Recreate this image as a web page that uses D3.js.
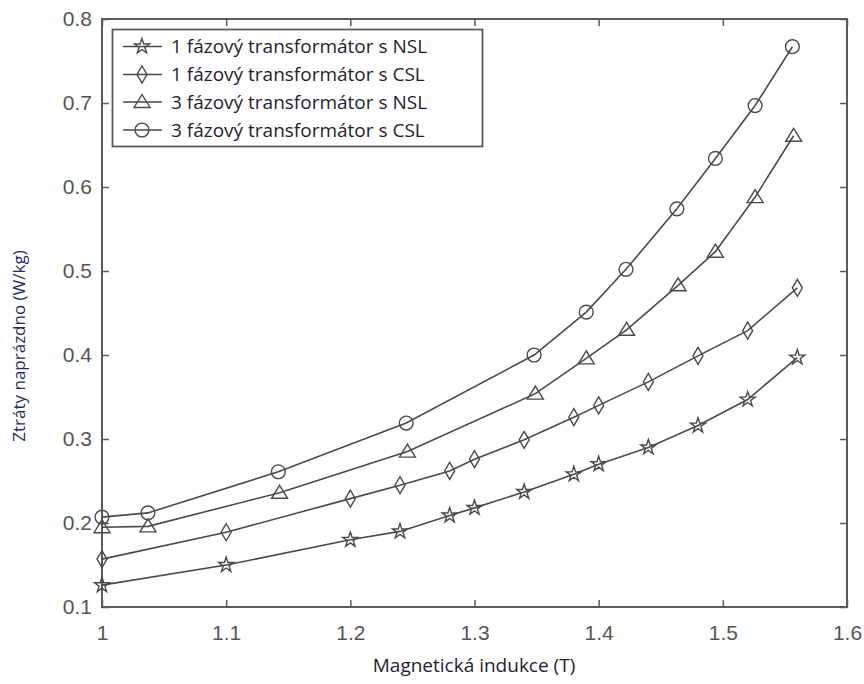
<!DOCTYPE html>
<html>
<head>
<meta charset="utf-8">
<script src="https://cdn.jsdelivr.net/npm/d3@7/dist/d3.min.js"></script>
<style>
  html, body { margin: 0; padding: 0; background: #fff; }
  svg { display: block; }
</style>
</head>
<body>
<svg id="chart" width="864" height="684"></svg>
<script>
// ---- data ----
const xTicks = [1, 1.1, 1.2, 1.3, 1.4, 1.5, 1.6];
const yTicks = [0.1, 0.2, 0.3, 0.4, 0.5, 0.6, 0.7, 0.8];

const seriesNames = [
  "1 fázový transformátor s NSL",
  "1 fázový transformátor s CSL",
  "3 fázový transformátor s NSL",
  "3 fázový transformátor s CSL"
];
const seriesMarkers = ["star", "diamond", "triangle", "circle"];

const x1 = [1.0, 1.1, 1.2, 1.24, 1.28, 1.30, 1.34, 1.38, 1.40, 1.44, 1.48, 1.52, 1.56];
const y1NSL = [0.126, 0.150, 0.180, 0.190, 0.209, 0.218, 0.237, 0.258, 0.270, 0.290, 0.316, 0.347, 0.397];
const y1CSL = [0.157, 0.189, 0.229, 0.245, 0.262, 0.276, 0.299, 0.326, 0.340, 0.368, 0.399, 0.429, 0.480];

const x3NSL = [1.0, 1.037, 1.143, 1.246, 1.349, 1.39, 1.4225, 1.464, 1.494, 1.526, 1.557];
const y3NSL = [0.195, 0.196, 0.236, 0.285, 0.354, 0.396, 0.430, 0.483, 0.523, 0.588, 0.661];
const x3CSL = [1.0, 1.037, 1.142, 1.245, 1.348, 1.39, 1.422, 1.463, 1.494, 1.526, 1.556];
const y3CSL = [0.207, 0.212, 0.261, 0.319, 0.400, 0.451, 0.502, 0.574, 0.634, 0.697, 0.767];

const seriesX = [x1, x1, x3NSL, x3CSL];
const seriesY = [y1NSL, y1CSL, y3NSL, y3CSL];

// ---- layout ----
const svg = d3.select("#chart");
const pL = 102, pR = 847, pT = 19, pB = 607;
const x = d3.scaleLinear().domain([1, 1.6]).range([pL, pR]);
const y = d3.scaleLinear().domain([0.1, 0.8]).range([pB, pT]);

const axisColor = "#5a5a5a";
const lineColor = "#4a4a4a";
const tickFont = "'Liberation Sans', Arial, sans-serif";
const textFont = "'Open Sans', 'Noto Sans', sans-serif";

// ---- axes (ticks inward on all four sides) ----
const tl = 7;
function styleAxis(g) {
  g.select(".domain").remove();
  g.selectAll(".tick line").attr("stroke", axisColor).attr("stroke-width", 1.5);
  g.selectAll(".tick text").attr("fill", "#555").style("font-family", tickFont).style("font-size", "21px");
}
svg.append("g").attr("transform", `translate(0,${pB})`)
  .call(d3.axisBottom(x).tickValues(xTicks).tickSize(-tl).tickPadding(18).tickFormat(d3.format("~g")))
  .call(styleAxis);
svg.append("g").attr("transform", `translate(0,${pT})`)
  .call(d3.axisTop(x).tickValues(xTicks).tickSize(-tl).tickFormat(""))
  .call(styleAxis);
svg.append("g").attr("transform", `translate(${pL},0)`)
  .call(d3.axisLeft(y).tickValues(yTicks).tickSize(-tl).tickPadding(10).tickFormat(d3.format("~g")))
  .call(styleAxis);
svg.append("g").attr("transform", `translate(${pR},0)`)
  .call(d3.axisRight(y).tickValues(yTicks).tickSize(-tl).tickFormat(""))
  .call(styleAxis);

svg.append("rect")
  .attr("x", pL).attr("y", pT)
  .attr("width", pR - pL).attr("height", pB - pT)
  .attr("fill", "none").attr("stroke", axisColor).attr("stroke-width", 2);

// ---- markers ----
function markerPath(kind) {
  if (kind === "star") return d3.symbol().type(d3.symbolStar).size(70)();
  if (kind === "circle") return d3.symbol().type(d3.symbolCircle).size(150)();
  if (kind === "triangle") return "M0,-7.5L8,5.5L-8,5.5Z";
  if (kind === "diamond") return "M0,-8.5L5,0L0,8.5L-5,0Z";
}

// ---- series ----
const line = d3.line().x(d => x(d[0])).y(d => y(d[1]));
seriesNames.forEach((name, i) => {
  const pts = seriesX[i].map((xv, j) => [xv, seriesY[i][j]]);
  const g = svg.append("g");
  g.append("path").attr("d", line(pts))
    .attr("fill", "none").attr("stroke", lineColor).attr("stroke-width", 1.6);
  g.selectAll("path.m").data(pts).enter().append("path")
    .attr("class", "m")
    .attr("d", markerPath(seriesMarkers[i]))
    .attr("transform", d => `translate(${x(d[0])},${y(d[1])})`)
    .attr("fill", "none").attr("stroke", lineColor).attr("stroke-width", 1.4);
});

// ---- legend ----
const lg = svg.append("g");
lg.append("rect").attr("x", 112.5).attr("y", 29.5).attr("width", 370).attr("height", 117)
  .attr("fill", "#fff").attr("stroke", axisColor).attr("stroke-width", 1.8);
const legY = [46.5, 74.5, 102, 130];
seriesNames.forEach((name, i) => {
  lg.append("line").attr("x1", 123).attr("x2", 162).attr("y1", legY[i]).attr("y2", legY[i])
    .attr("stroke", lineColor).attr("stroke-width", 1.6);
  lg.append("path").attr("d", markerPath(seriesMarkers[i]))
    .attr("transform", `translate(142,${legY[i]})`)
    .attr("fill", "none").attr("stroke", lineColor).attr("stroke-width", 1.4);
  lg.append("text").attr("x", 171).attr("y", legY[i]).attr("dy", "0.36em")
    .style("font-family", textFont).style("font-size", "19px").attr("fill", "#1e1e30")
    .text(name);
});

// ---- axis titles ----
svg.append("text").attr("x", 474).attr("y", 672).attr("text-anchor", "middle")
  .style("font-family", textFont).style("font-size", "19px").attr("fill", "#1e1e30")
  .text("Magnetická indukce (T)");
svg.append("text").attr("transform", "translate(25,346) rotate(-90)").attr("text-anchor", "middle")
  .style("font-family", textFont).style("font-size", "17px").attr("fill", "#1e2a60")
  .text("Ztráty naprázdno (W/kg)");
</script>
</body>
</html>
